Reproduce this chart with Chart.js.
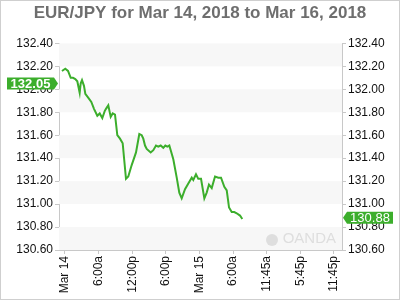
<!DOCTYPE html>
<html>
<head>
<meta charset="utf-8">
<script src="https://cdn.jsdelivr.net/npm/chart.js@4/dist/chart.umd.min.js"></script>
<style>
  body { margin: 0; background: #fff; }
</style>
</head>
<body>
<canvas id="chart" width="400" height="300"></canvas>
<script>
/* EUR/JPY  Mar 14 - Mar 16, 2018 */

// hours since Mar 14 00:00
const hours = [-0.54, 0.05, 0.54, 1.02, 1.43, 1.84, 2.2, 2.62, 2.8, 3.04, 3.39, 3.63, 4.11, 4.7, 5.18, 5.77,
  6.2, 6.66, 7.09, 7.32, 7.73, 8.16, 8.52, 8.93, 9.34, 9.82, 10.3, 10.89, 11.3, 11.91, 12.68, 13.27,
  13.7, 13.98, 14.29, 14.59, 15.3, 15.77, 16.25, 16.66, 17.09, 17.55, 17.91, 18.27, 18.63, 19.34, 19.95,
  20.41, 20.84, 21.43, 22.02, 22.63, 22.91, 23.39, 23.8, 24.29, 24.88, 25.3, 25.71, 26.2, 26.79, 27.38,
  27.86, 28.45, 28.88, 29.29, 29.77, 30.23, 30.66, 31.25, 31.66];

const prices = [132.16, 132.18, 132.16, 132.10, 132.10, 132.09, 132.07, 131.97, 132.05, 132.08, 132.03, 131.96,
  131.93, 131.89, 131.83, 131.77, 131.79, 131.75, 131.81, 131.83, 131.86, 131.76, 131.79, 131.78, 131.60,
  131.57, 131.53, 131.22, 131.24, 131.34, 131.45, 131.61, 131.60, 131.57, 131.51, 131.48, 131.45, 131.47,
  131.51, 131.50, 131.51, 131.49, 131.51, 131.50, 131.51, 131.39, 131.23, 131.10, 131.05, 131.13, 131.18,
  131.23, 131.21, 131.26, 131.22, 131.22, 131.05, 131.10, 131.17, 131.14, 131.24, 131.23, 131.23, 131.15,
  131.12, 130.97, 130.93, 130.93, 130.92, 130.90, 130.87];

const xTickHours = [0, 6, 12, 18, 24, 30, 36, 42, 48];
const xTickLabels = ["Mar 14", "6:00a", "12:00p", "6:00p", "Mar 15", "6:00a", "11:45a", "5:45p", "11:45p"];
const yTicks = [130.6, 130.8, 131.0, 131.2, 131.4, 131.6, 131.8, 132.0, 132.2, 132.4];

const openPrice = 132.05;
const lastPrice = 130.88;

const GREEN = "#3cae2c";
const AXIS = "#c8c8c8";

// alternating grey bands + outer frame
const bandsPlugin = {
  id: "bands",
  beforeDatasetsDraw(chart) {
    const { ctx, chartArea } = chart;
    const y = chart.scales.y;
    ctx.save();
    ctx.fillStyle = "#f7f7f7";
    for (let i = 0; i < yTicks.length - 1; i += 2) {
      const top = y.getPixelForValue(yTicks[i + 1]);
      const bot = y.getPixelForValue(yTicks[i]);
      ctx.fillRect(chartArea.left, top, chartArea.right - chartArea.left, bot - top);
    }
    // watermark
    ctx.fillStyle = "#dedede";
    ctx.font = "15px 'Liberation Sans', Arial, sans-serif";
    ctx.textAlign = "right";
    ctx.textBaseline = "bottom";
    ctx.fillText("OANDA", chartArea.right - 6, chartArea.bottom - 4);
    ctx.beginPath();
    ctx.arc(chartArea.right - 70, chartArea.bottom - 10, 6, 0, Math.PI * 2);
    ctx.fill();
    ctx.restore();
  },
  afterDraw(chart) {
    const { ctx, chartArea } = chart;
    const y = chart.scales.y;
    ctx.save();
    ctx.strokeStyle = "#cfcfcf";
    ctx.lineWidth = 1;
    ctx.strokeRect(0.5, 0.5, chart.width - 1, chart.height - 1);

    // price flags
    ctx.textBaseline = "middle";
    ctx.textAlign = "center";

    let py = y.getPixelForValue(openPrice);
    ctx.fillStyle = GREEN;
    ctx.beginPath();
    ctx.moveTo(7, py - 6);
    ctx.lineTo(chartArea.left - 5, py - 6);
    ctx.lineTo(chartArea.left - 1, py);
    ctx.lineTo(chartArea.left - 5, py + 6);
    ctx.lineTo(7, py + 6);
    ctx.closePath();
    ctx.fill();
    ctx.fillStyle = "#fff";
    ctx.font = "bold 13px 'Liberation Sans', Arial, sans-serif";
    ctx.fillText(openPrice.toFixed(2), (7 + chartArea.left - 5) / 2, py + 1);

    py = y.getPixelForValue(lastPrice);
    ctx.fillStyle = GREEN;
    ctx.beginPath();
    ctx.moveTo(chartArea.right + 1, py);
    ctx.lineTo(chartArea.right + 5, py - 6);
    ctx.lineTo(393, py - 6);
    ctx.lineTo(393, py + 6);
    ctx.lineTo(chartArea.right + 5, py + 6);
    ctx.closePath();
    ctx.fill();
    ctx.fillStyle = "#fff";
    ctx.font = "13px 'Liberation Sans', Arial, sans-serif";
    ctx.fillText(lastPrice.toFixed(2), (chartArea.right + 5 + 393) / 2, py + 1);
    ctx.restore();
  }
};

const tickFont = { family: "'Liberation Sans', Arial, sans-serif", size: 12 };

const yAxis = (position, width) => ({
  type: "linear",
  position,
  min: 130.6,
  max: 132.4,
  afterBuildTicks: s => { s.ticks = yTicks.map(v => ({ value: v })); },
  afterFit: s => { s.width = width; },
  ticks: {
    color: "#111",
    font: tickFont,
    padding: 2,
    callback: v => v.toFixed(2)
  },
  grid: { drawOnChartArea: false, drawTicks: true, tickLength: 4, color: AXIS },
  border: { display: true, color: AXIS }
});

new Chart(document.getElementById("chart"), {
  type: "line",
  data: {
    datasets: [{
      data: hours.map((h, i) => ({ x: h, y: prices[i] })),
      borderColor: GREEN,
      borderWidth: 2,
      pointRadius: 0,
      tension: 0,
      fill: false,
      yAxisID: "y"
    }]
  },
  options: {
    responsive: false,
    animation: false,
    layout: { padding: 0 },
    plugins: {
      legend: { display: false },
      tooltip: { enabled: false },
      title: {
        display: true,
        text: "EUR/JPY for Mar 14, 2018 to Mar 16, 2018",
        color: "#6e6e6e",
        font: { family: "'Liberation Sans', Arial, sans-serif", size: 17, weight: "bold" },
        padding: { top: 3, bottom: 20 }
      }
    },
    scales: {
      x: {
        type: "linear",
        min: -1.07,
        max: 49.46,
        afterBuildTicks: s => { s.ticks = xTickHours.map(v => ({ value: v })); },
        afterFit: s => { s.height = 50; },
        ticks: {
          autoSkip: false,
          minRotation: 90,
          maxRotation: 90,
          color: "#111",
          font: tickFont,
          padding: 2,
          callback: v => xTickLabels[xTickHours.indexOf(v)]
        },
        grid: { drawOnChartArea: false, drawTicks: true, tickLength: 4, color: AXIS },
        border: { display: true, color: AXIS }
      },
      y: yAxis("left", 59),
      y2: yAxis("right", 58)
    }
  },
  plugins: [bandsPlugin]
});
</script>
</body>
</html>
